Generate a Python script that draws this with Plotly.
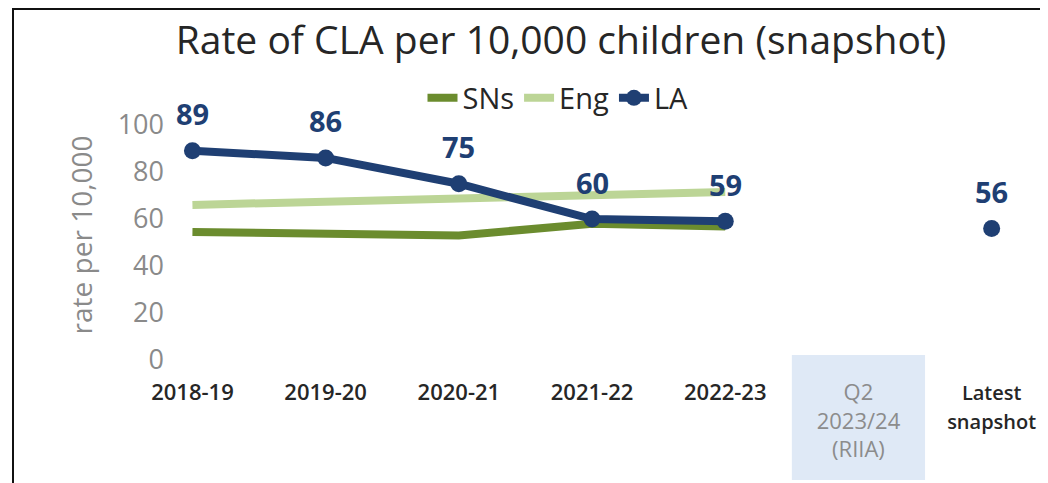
import plotly.graph_objects as go

# ---- data ----
categories = ["2018-19", "2019-20", "2020-21", "2021-22", "2022-23", "Q2 2023/24 (RIIA)", "Latest snapshot"]
tick_labels = ["2018-19", "2019-20", "2020-21", "2021-22", "2022-23",
               "<span style='color:#8c8c8c;font-weight:400'>Q2<br>2023/24<br>(RIIA)</span>",
               "<span style='font-size:20px'>Latest<br>snapshot</span>"]
sns_values = [54.5, 53.8, 53.0, 58.0, 56.8, None, None]
eng_values = [66.0, 67.5, 69.0, 70.2, 71.5, None, None]
la_values = [89, 86, 75, 60, 59, None, 56]
y_ticks = [0, 20, 40, 60, 80, 100]

# page body has an 8px default margin; figure sized to fill the rest of the window
OFF = 8
W, H = 1048 - OFF, 483 - OFF
L, R, T, B = 157, 0, 102, 123
plot_w = W - L - R
plot_h = H - T - B

def px_x(px):  # page pixel -> paper x
    return (px - OFF - L) / plot_w

def px_y(py):  # page pixel -> paper y
    return (H - B - (py - OFF)) / plot_h

SNS_C = "#6b8c2e"
ENG_C = "#bcd596"
LA_C = "#1f3f73"

fig = go.Figure()
fig.add_trace(go.Scatter(x=categories, y=sns_values, name="SNs", mode="lines",
                         line=dict(color=SNS_C, width=8), connectgaps=False))
fig.add_trace(go.Scatter(x=categories, y=eng_values, name="Eng", mode="lines",
                         line=dict(color=ENG_C, width=8), connectgaps=False))
fig.add_trace(go.Scatter(x=categories, y=la_values, name="LA", mode="lines+markers",
                         line=dict(color=LA_C, width=8), marker=dict(color=LA_C, size=17),
                         connectgaps=False))

for c, v in zip(categories, la_values):
    if v is None:
        continue
    fig.add_annotation(x=c, y=v, text=f"<b>{v}</b>", showarrow=False, yshift=37,
                       font=dict(family="Open Sans", size=29, color=LA_C))

# Q2 shaded band
fig.add_shape(type="rect", xref="x", yref="paper", x0=4.5, x1=5.5,
              y0=px_y(480), y1=px_y(355), fillcolor="#dfe9f6", line=dict(width=0), layer="below")

# frame lines
fig.add_shape(type="line", xref="paper", yref="paper", x0=px_x(12), x1=px_x(1048),
              y0=px_y(OFF + 1), y1=px_y(OFF + 1), line=dict(color="#111111", width=2))
fig.add_shape(type="line", xref="paper", yref="paper", x0=px_x(13), x1=px_x(13),
              y0=px_y(OFF + 1), y1=px_y(483), line=dict(color="#111111", width=2))

fig.update_layout(
    width=W, height=H,
    margin=dict(l=L, r=R, t=T, b=B, autoexpand=False),
    paper_bgcolor="white", plot_bgcolor="white",
    title=dict(text="Rate of CLA per 10,000 children (snapshot)", x=(561 - OFF) / W, xanchor="center",
               y=1 - (40 - OFF) / H, yanchor="middle", xref="container", yref="container",
               font=dict(family="Open Sans", size=39, color="#262626")),
    legend=dict(orientation="h", x=px_x(558), xanchor="center", y=px_y(98), yanchor="middle",
                font=dict(family="Open Sans", size=29, color="#262626"),
                itemwidth=30, tracegroupgap=0, bgcolor="rgba(0,0,0,0)"),
    showlegend=True,
)

fig.update_xaxes(type="category", categoryorder="array", categoryarray=categories,
                 range=[-0.206, 6.423], tickmode="array", tickvals=categories, ticktext=tick_labels,
                 showgrid=False, showline=False, zeroline=False, ticks="",
                 tickfont=dict(family="Open Sans", size=22, color="#262626", weight=600),
                 ticklabelstandoff=17)
fig.update_yaxes(range=[0, plot_h / 2.35], tickmode="array", tickvals=y_ticks,
                 showgrid=False, showline=False, zeroline=False, ticks="",
                 tickfont=dict(family="Open Sans", size=27, color="#8a8a8a"),
                 title=dict(text="rate per 10,000", standoff=16,
                            font=dict(family="Open Sans", size=28, color="#8a8a8a")))

fig.write_html("out.html")
